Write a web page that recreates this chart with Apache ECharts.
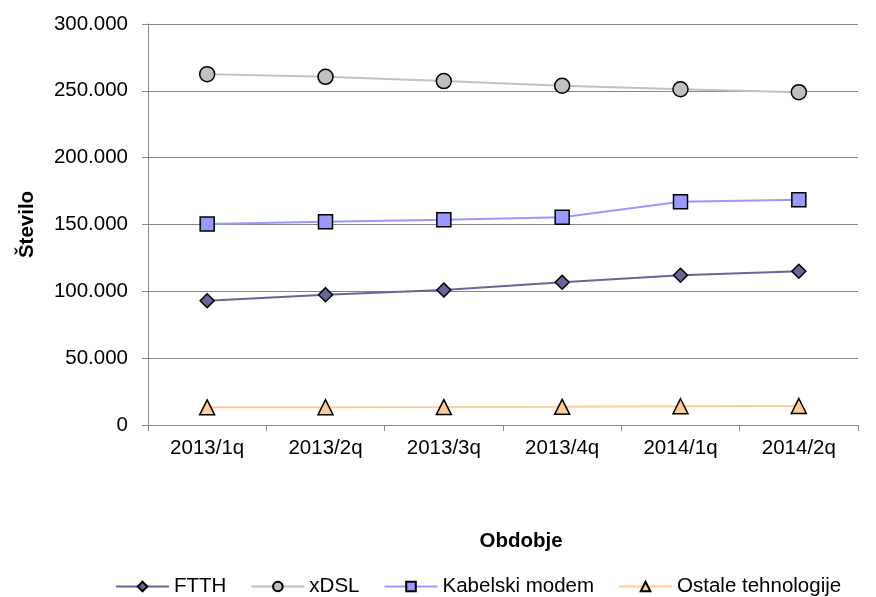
<!DOCTYPE html>
<html>
<head>
<meta charset="utf-8">
<script src="https://cdn.jsdelivr.net/npm/echarts@6/dist/echarts.min.js"></script>
<style>
  html, body { margin: 0; padding: 0; background: #fff; }
  #main { width: 876px; height: 597px; }
</style>
</head>
<body>
<div id="main"></div>
<script>
var categories = ["2013/1q", "2013/2q", "2013/3q", "2013/4q", "2014/1q", "2014/2q"];
var ftth = [93000, 97500, 101000, 106800, 112000, 115000];
var xdsl = [262500, 260500, 257300, 253800, 251200, 249000];
var kabelski = [150300, 152000, 153500, 155500, 167000, 168500];
var ostale = [13200, 13300, 13400, 13600, 14000, 14200];
var yTicks = [0, 50000, 100000, 150000, 200000, 250000, 300000];

function fmt(v) {
  return v === 0 ? "0" : String(v).replace(/\B(?=(\d{3})+(?!\d))/g, ".");
}

var font = "Liberation Sans, Arial, sans-serif";
var fs = 20.5;

function line(name, data, color, symbol, size) {
  return {
    name: name,
    type: "line",
    data: data,
    symbol: symbol,
    symbolSize: size,
    lineStyle: { color: color, width: 2 },
    itemStyle: { color: color, borderColor: "#000", borderWidth: 1.5 },
    emphasis: { disabled: true },
    animation: false
  };
}

var chart = echarts.init(document.getElementById("main"));
chart.setOption({
  backgroundColor: "#fff",
  textStyle: { fontFamily: font },
  grid: { left: 148, right: 18, top: 24, bottom: 172 },
  legend: {
    top: 571,
    left: 110,
    itemWidth: 53,
    itemHeight: 12,
    itemGap: 24,
    textStyle: { fontSize: fs, color: "#000", fontFamily: font },
    data: ["FTTH", "xDSL", "Kabelski modem", "Ostale tehnologije"]
  },
  graphic: [
    {
      type: "text",
      x: 521,
      y: 541,
      style: {
        text: "Obdobje",
        font: "bold " + fs + "px " + font,
        fill: "#000",
        textAlign: "center",
        textVerticalAlign: "middle"
      }
    }
  ],
  xAxis: {
    type: "category",
    data: categories,
    boundaryGap: true,
    axisLine: { lineStyle: { color: "#868686", width: 1 } },
    axisTick: { show: true, length: 6, interval: 0, lineStyle: { color: "#868686" } },
    axisLabel: { color: "#000", fontSize: fs, margin: 13, fontFamily: font }
  },
  yAxis: {
    type: "value",
    min: yTicks[0],
    max: yTicks[yTicks.length - 1],
    interval: 50000,
    name: "Število",
    nameLocation: "middle",
    nameGap: 110,
    nameTextStyle: { fontSize: fs, fontWeight: "bold", color: "#000", fontFamily: font },
    axisLine: { show: true, lineStyle: { color: "#868686" } },
    axisTick: { show: true, length: 6, lineStyle: { color: "#868686" } },
    axisLabel: { color: "#000", fontSize: fs, margin: 20, formatter: fmt, fontFamily: font },
    splitLine: { lineStyle: { color: "#868686", width: 1 } }
  },
  series: [
    line("FTTH", ftth, "#666699", "diamond", 14),
    line("xDSL", xdsl, "#C0C0C0", "circle", 15),
    line("Kabelski modem", kabelski, "#9999FF", "rect", 14),
    line("Ostale tehnologije", ostale, "#FFCC99", "triangle", 15)
  ]
});
</script>
</body>
</html>
